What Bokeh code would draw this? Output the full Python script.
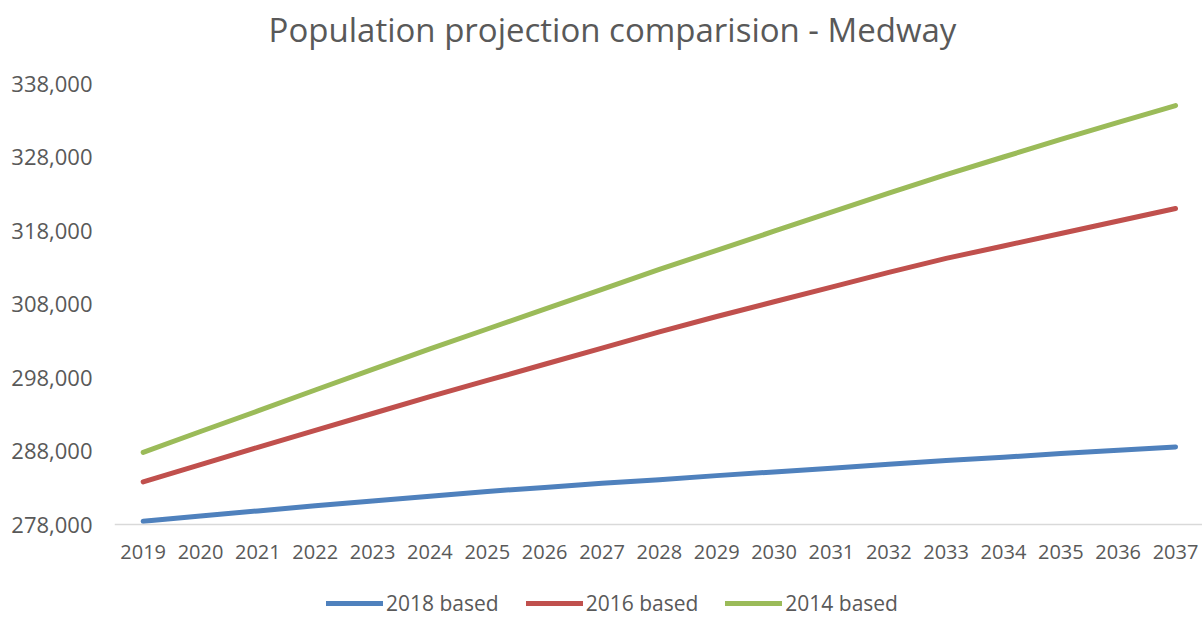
from bokeh.plotting import figure
from bokeh.models import (ColumnDataSource, FixedTicker, NumeralTickFormatter,
                          Legend, LegendItem, Range1d, BasicTickFormatter, Label)
from bokeh.embed import file_html
from bokeh.resources import INLINE

years = list(range(2019, 2038))
based_2018 = [278450, 279150, 279850, 280550, 281200, 281850, 282500, 283050, 283600, 284100,
              284650, 285150, 285650, 286200, 286700, 287150, 287650, 288100, 288550]
based_2016 = [283800, 286150, 288500, 290800, 293100, 295400, 297600, 299800, 302000, 304200,
              306300, 308300, 310300, 312300, 314200, 315900, 317600, 319300, 321000]
based_2014 = [287800, 290650, 293450, 296300, 299100, 301900, 304600, 307300, 310000, 312700,
              315300, 317900, 320500, 323100, 325600, 328000, 330400, 332700, 335000]
series_names = ["2018 based", "2016 based", "2014 based"]
y_ticks = [278000, 288000, 298000, 308000, 318000, 328000, 338000]
y_min, y_max = 278000, 338000
title_text = "Population projection comparision - Medway"

colors = ["#4F81BD", "#C0504D", "#9BBB59"]
FONT = "Open Sans"
GREY = "#595959"

# The frame fills the whole canvas height; the value axis 278,000-338,000 occupies
# pixel rows 83..524, the space above holds the title, below the x labels + legend.
H = 620
top_px, axis_px = 83, 524
per_px = (y_max - y_min) / (axis_px - top_px)
y_start = y_min - (H - axis_px) * per_px
y_end = y_max + top_px * per_px

p = figure(width=1202, height=H, output_backend="svg", toolbar_location=None,
           x_range=Range1d(2018.5, 2037.47), y_range=Range1d(y_start, y_end),
           min_border_left=114, min_border_right=0, min_border_top=0, min_border_bottom=0)
p.outline_line_color = None
p.grid.visible = False
p.background_fill_color = "white"
p.border_fill_color = "white"

renderers = []
for vals, c in zip([based_2018, based_2016, based_2014], colors):
    src = ColumnDataSource(dict(x=years, y=vals))
    r = p.line("x", "y", source=src, line_color=c, line_width=5, line_cap="round", line_join="round")
    renderers.append(r)

# title placed in the space above the top value line
title = Label(x=498, x_units="screen", y=y_max + 54 * per_px, y_units="data",
              text=title_text, text_font=FONT, text_font_size="33px", text_color=GREY,
              text_align="center", text_baseline="alphabetic")
p.add_layout(title)

# y axis
p.yaxis.ticker = FixedTicker(ticks=y_ticks)
p.yaxis.formatter = NumeralTickFormatter(format="0,0")
p.yaxis.axis_line_color = None
p.yaxis.major_tick_line_color = None
p.yaxis.minor_tick_line_color = None
p.yaxis.major_label_text_font = FONT
p.yaxis.major_label_text_font_size = "22px"
p.yaxis.major_label_text_color = GREY
p.yaxis.major_label_standoff = 16

# x axis placed at the 278,000 baseline
p.xaxis.fixed_location = y_min
p.xaxis.ticker = FixedTicker(ticks=years)
p.xaxis.formatter = BasicTickFormatter(use_scientific=False)
p.xaxis.axis_line_color = "#D9D9D9"
p.xaxis.axis_line_width = 1.5
p.xaxis.major_tick_line_color = None
p.xaxis.minor_tick_line_color = None
p.xaxis.major_label_text_font = FONT
p.xaxis.major_label_text_font_size = "20px"
p.xaxis.major_label_text_color = GREY
p.xaxis.major_label_standoff = 14

items = [LegendItem(label=n, renderers=[r]) for n, r in zip(series_names, renderers)]
legend = Legend(items=items, orientation="horizontal", location=(212, 3),
                glyph_width=57, glyph_height=20, label_standoff=3, spacing=27,
                padding=0, margin=0, border_line_color=None, background_fill_alpha=0,
                label_text_font=FONT, label_text_font_size="21px", label_text_color=GREY,
                label_height=20)
p.add_layout(legend, "center")

open("out.html", "w").write(file_html(p, INLINE))
